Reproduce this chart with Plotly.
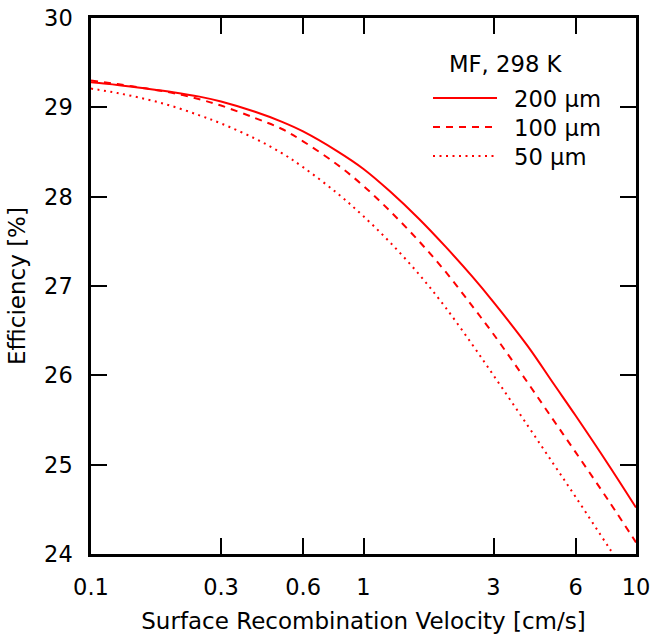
import plotly.graph_objects as go

# Surface recombination velocity [cm/s] (shared sample points)
x_vals = [0.1, 0.125, 0.16, 0.2, 0.25, 0.3, 0.4, 0.5, 0.6, 0.8, 1.0, 1.25, 1.6, 2.0, 2.5, 3.0, 4.0, 5.0, 6.0, 8.0, 10.0]
# Efficiency [%]
eff_200 = [29.28, 29.25, 29.21, 29.17, 29.12, 29.065, 28.95, 28.84, 28.73, 28.51, 28.31, 28.06, 27.75, 27.44, 27.11, 26.82, 26.33, 25.90, 25.55, 24.98, 24.52]
eff_100 = [29.30, 29.26, 29.21, 29.16, 29.09, 29.02, 28.88, 28.76, 28.62, 28.36, 28.12, 27.84, 27.50, 27.16, 26.78, 26.46, 25.92, 25.49, 25.14, 24.58, 24.13]
eff_50 = [29.21, 29.16, 29.09, 29.01, 28.91, 28.82, 28.65, 28.49, 28.33, 28.04, 27.78, 27.49, 27.13, 26.76, 26.35, 26.00, 25.44, 25.00, 24.64, 24.06, 23.61]

labels = ["200 µm", "100 µm", "50 µm"]
legend_title = "MF, 298 K"
x_ticks = [0.1, 0.3, 0.6, 1, 3, 6, 10]
x_tick_text = ["0.1", "0.3", "0.6", "1", "3", "6", "10"]
y_ticks = [24, 25, 26, 27, 28, 29, 30]

FONT = "DejaVu Sans, Verdana, sans-serif"
RED = "#ff0000"
DASHES = ["solid", "7px,6px", "2px,4.5px"]

W, H = 652, 634
L, R, T, B = 91, 16, 18, 80
PW, PH = W - L - R, H - T - B


def px_x(p):
    return (p - L) / PW


def px_y(p):
    return (H - B - p) / PH


fig = go.Figure()
for ys, lab, dash in zip([eff_200, eff_100, eff_50], labels, DASHES):
    fig.add_trace(go.Scatter(x=x_vals, y=ys, mode="lines", name=lab, showlegend=False,
                             line=dict(color=RED, width=2, dash=dash, shape="spline", smoothing=1)))

# Legend (drawn manually to match the reference layout)
fig.add_annotation(text=legend_title, xref="paper", yref="paper", x=px_x(506), y=px_y(64),
                   xanchor="center", yanchor="middle", showarrow=False,
                   font=dict(family=FONT, size=22.7, color="black"))
for i, (lab, dash) in enumerate(zip(labels, DASHES)):
    yy = 98 + 29 * i
    fig.add_shape(type="line", xref="paper", yref="paper", x0=px_x(433), x1=px_x(497),
                  y0=px_y(yy), y1=px_y(yy), line=dict(color=RED, width=2, dash=dash))
    fig.add_annotation(text=lab, xref="paper", yref="paper", x=px_x(512), y=px_y(yy + 1),
                       xanchor="left", yanchor="middle", showarrow=False,
                       font=dict(family=FONT, size=22.7, color="black"))

axis_common = dict(showgrid=False, zeroline=False, showline=True, linecolor="black",
                   linewidth=2.5, mirror="ticks", ticks="inside", ticklen=16, tickwidth=2,
                   tickcolor="black", automargin=False,
                   tickfont=dict(family=FONT, size=22.5, color="black"))

fig.update_xaxes(type="log", range=[-1, 1], tickvals=x_ticks, ticktext=x_tick_text,
                 title=dict(text="Surface Recombination Velocity [cm/s]",
                            font=dict(family=FONT, size=23, color="black"), standoff=17),
                 ticklabelstandoff=11, **axis_common)
fig.update_yaxes(range=[24, 30], tickvals=y_ticks,
                 title=dict(text="Efficiency [%]", font=dict(family=FONT, size=23, color="black"), standoff=13),
                 ticklabelstandoff=11, **axis_common)

fig.update_layout(
    width=W, height=H,
    margin=dict(l=L, r=R, t=T, b=B),
    paper_bgcolor="white", plot_bgcolor="white",
    font=dict(family=FONT, size=22, color="black"),
    showlegend=False,
)

fig.write_html("out.html")
